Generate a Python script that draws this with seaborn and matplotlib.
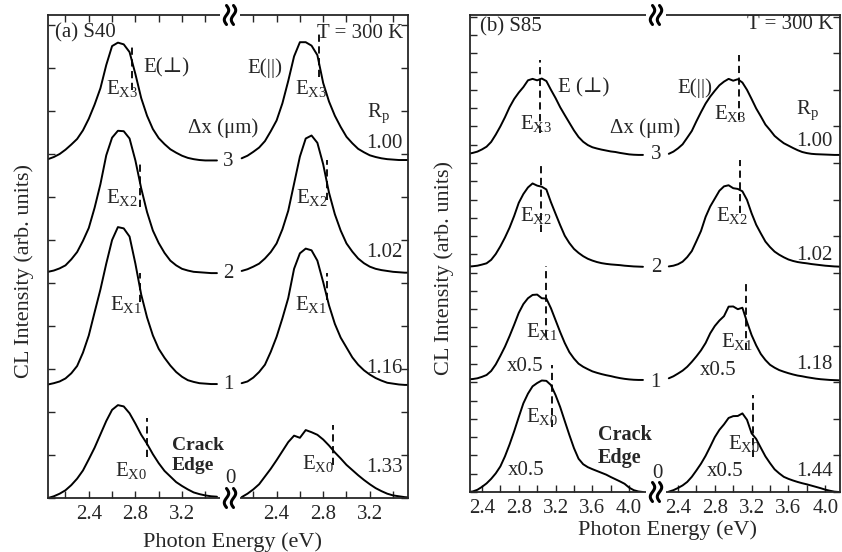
import numpy as np
import matplotlib
matplotlib.use('Agg')
import matplotlib.pyplot as plt
import seaborn as sns
from matplotlib.lines import Line2D
from matplotlib.patches import Rectangle

# photon energy grids (eV) for each half of the broken axes
e_a_left = np.round(np.arange(2.05, 3.501, 0.05), 2)
e_a_right = np.round(np.arange(2.10, 3.551, 0.05), 2)
e_b_left = np.round(np.arange(2.25, 4.151, 0.05), 2)
e_b_right = np.round(np.arange(2.30, 4.201, 0.05), 2)

dx_labels = ['0', '1', '2', '3']
offsets_a = [0.0, 2.63, 5.23, 7.85]
offsets_b = [0.0, 6.13, 12.30, 18.44]
rp_a = ['1.33', '1.16', '1.02', '1.00']
rp_b = ['1.44', '1.18', '1.02', '1.00']

# (a) S40, E(perp) spectra, dx = 0..3 um
a_perp_0 = [0.0, 0.04, 0.10, 0.18, 0.30, 0.45, 0.64, 0.90, 1.17, 1.48, 1.79, 2.05, 2.16, 2.13, 1.97,
            1.73, 1.47, 1.26, 1.02, 0.81, 0.63, 0.50, 0.37, 0.28, 0.20, 0.13, 0.09, 0.06, 0.04, 0.03]
a_perp_1 = [0.01, 0.04, 0.08, 0.15, 0.27, 0.44, 0.75, 1.15, 1.69, 2.22, 2.82, 3.37, 3.67, 3.64, 3.45,
            2.82, 2.10, 1.57, 1.15, 0.84, 0.63, 0.45, 0.30, 0.19, 0.11, 0.07, 0.04, 0.03, 0.02, 0.02]
a_perp_2 = [0.03, 0.06, 0.11, 0.18, 0.32, 0.49, 0.75, 1.05, 1.52, 2.07, 2.74, 3.15, 3.31, 3.30, 3.13,
            2.62, 1.97, 1.42, 0.99, 0.70, 0.47, 0.29, 0.18, 0.10, 0.06, 0.03, 0.02, 0.01, 0.0, 0.0]
a_perp_3 = [0.03, 0.08, 0.15, 0.25, 0.37, 0.50, 0.70, 0.97, 1.30, 1.68, 2.22, 2.66, 2.74, 2.70, 2.52,
            2.01, 1.45, 1.04, 0.73, 0.52, 0.38, 0.26, 0.18, 0.11, 0.06, 0.03, 0.01, 0.0, 0.0, 0.0]
# (a) S40, E(par)
a_par_0 = [0.02, 0.10, 0.20, 0.32, 0.50, 0.68, 0.88, 1.09, 1.30, 1.45, 1.40, 1.58, 1.53, 1.47, 1.36,
           1.22, 1.06, 0.92, 0.77, 0.65, 0.53, 0.42, 0.32, 0.23, 0.16, 0.10, 0.06, 0.04, 0.02, 0.01]
a_par_1 = [0.04, 0.08, 0.17, 0.30, 0.47, 0.77, 1.12, 1.55, 2.02, 2.70, 3.06, 3.17, 3.13, 2.89, 2.39,
           1.85, 1.42, 1.10, 0.87, 0.64, 0.47, 0.34, 0.24, 0.16, 0.10, 0.05, 0.03, 0.01, 0.0, 0.0]
a_par_2 = [0.05, 0.09, 0.15, 0.22, 0.34, 0.49, 0.69, 1.02, 1.45, 2.08, 2.71, 3.13, 3.20, 3.03, 2.53,
           1.87, 1.37, 0.99, 0.69, 0.50, 0.34, 0.23, 0.15, 0.10, 0.07, 0.05, 0.03, 0.02, 0.01, 0.01]
a_par_3 = [0.05, 0.11, 0.20, 0.30, 0.45, 0.68, 0.93, 1.33, 1.85, 2.42, 2.75, 2.75, 2.67, 2.45, 1.80,
           1.37, 1.04, 0.78, 0.55, 0.40, 0.27, 0.19, 0.12, 0.08, 0.05, 0.03, 0.02, 0.01, 0.01, 0.01]

# (b) S85, E(perp)
b_perp_0 = [0.0, 0.03, 0.12, 0.28, 0.47, 0.72, 1.02, 1.40, 1.95, 2.60, 3.32, 4.10, 4.85, 5.38, 5.78,
            5.96, 6.10, 6.08, 5.85, 5.30, 4.65, 3.88, 3.12, 2.40, 1.82, 1.52, 1.36, 1.25, 1.15, 1.05,
            0.95, 0.82, 0.70, 0.58, 0.45, 0.24, 0.10, 0.03, 0.0]
b_perp_1 = [0.03, 0.05, 0.09, 0.17, 0.27, 0.49, 0.85, 1.32, 1.82, 2.40, 3.02, 3.67, 4.15, 4.47, 4.65,
            4.67, 4.47, 4.45, 3.92, 3.27, 2.62, 2.02, 1.52, 1.17, 0.89, 0.72, 0.59, 0.47, 0.39, 0.32,
            0.26, 0.21, 0.15, 0.10, 0.06, 0.03, 0.01, 0.0, 0.0]
b_perp_2 = [0.03, 0.05, 0.08, 0.14, 0.21, 0.40, 0.72, 1.14, 1.62, 2.16, 2.80, 3.52, 4.00, 4.36, 4.58,
            4.46, 4.40, 4.25, 3.55, 2.92, 2.30, 1.72, 1.32, 1.00, 0.78, 0.60, 0.46, 0.36, 0.28, 0.22,
            0.18, 0.15, 0.13, 0.11, 0.08, 0.06, 0.04, 0.03, 0.02]
b_perp_3 = [0.06, 0.11, 0.18, 0.30, 0.45, 0.71, 1.11, 1.56, 2.06, 2.61, 3.06, 3.41, 3.71, 4.08, 4.16,
            4.08, 4.18, 4.04, 3.56, 3.11, 2.61, 2.18, 1.76, 1.34, 0.98, 0.72, 0.54, 0.42, 0.35, 0.29,
            0.24, 0.19, 0.16, 0.11, 0.07, 0.03, 0.01, 0.0, 0.0]
# (b) S85, E(par)
b_par_0 = [0.02, 0.10, 0.22, 0.36, 0.55, 0.83, 1.18, 1.55, 1.98, 2.48, 3.00, 3.40, 3.70, 4.05, 4.15,
           4.16, 4.30, 3.95, 3.21, 2.90, 2.42, 1.95, 1.58, 1.24, 1.02, 0.83, 0.72, 0.63, 0.55, 0.48,
           0.42, 0.35, 0.28, 0.21, 0.13, 0.07, 0.02, 0.0, -0.02]
b_par_1 = [0.09, 0.20, 0.35, 0.51, 0.72, 0.99, 1.29, 1.62, 2.02, 2.55, 2.95, 3.25, 3.49, 4.01, 4.02,
           3.87, 3.95, 3.17, 2.45, 1.89, 1.42, 1.09, 0.83, 0.67, 0.54, 0.45, 0.37, 0.30, 0.24, 0.20,
           0.15, 0.11, 0.07, 0.04, 0.02, 0.0, -0.01, -0.02, -0.03]
b_par_2 = [0.04, 0.08, 0.16, 0.30, 0.55, 0.88, 1.42, 1.98, 2.75, 3.32, 3.75, 4.18, 4.42, 4.48, 4.32,
           4.28, 4.15, 3.68, 2.95, 2.32, 1.85, 1.40, 1.10, 0.85, 0.68, 0.54, 0.42, 0.34, 0.28, 0.24,
           0.21, 0.17, 0.14, 0.11, 0.08, 0.06, 0.04, 0.03, 0.02]
b_par_3 = [0.06, 0.18, 0.36, 0.58, 0.94, 1.31, 1.84, 2.34, 2.81, 3.19, 3.51, 3.81, 4.01, 4.16, 4.06,
           4.14, 3.96, 3.56, 3.06, 2.54, 2.11, 1.66, 1.36, 1.04, 0.83, 0.64, 0.51, 0.38, 0.26, 0.16,
           0.10, 0.06, 0.04, 0.03, 0.02, 0.01, 0.0, 0.0, 0.0]

# E_X marker energies (eV) and their vertical extent, dx = 0..3
ex_a_perp = [2.897, 2.84, 2.84, 2.774]
ex_a_perp_y = [(0.95, 1.86), (4.56, 5.23), (6.77, 7.79), (9.49, 10.53)]
ex_a_par = [2.887, 2.83, 2.83, 2.767]
ex_a_par_y = [(0.77, 1.70), (4.60, 5.23), (6.93, 7.86), (9.79, 10.81)]
ex_b_perp = [3.165, 3.10, 3.038, 3.031]
ex_b_perp_y = [(3.57, 6.95), (8.48, 12.36), (14.2, 18.0), (19.64, 23.63)]
ex_b_par = [3.218, 3.139, 3.074, 3.066]
ex_b_par_y = [(1.93, 5.31), (7.77, 11.43), (15.25, 18.16), (20.35, 23.9)]

sns.set_style('ticks')
plt.rcParams['font.family'] = ['Liberation Serif', 'DejaVu Serif', 'DejaVu Sans']
plt.rcParams['mathtext.fontset'] = 'custom'
plt.rcParams['mathtext.rm'] = 'Liberation Serif'
plt.rcParams['mathtext.it'] = 'Liberation Serif:italic'
plt.rcParams['mathtext.bf'] = 'Liberation Serif:bold'

W, H = 842, 552
fig = plt.figure(figsize=(W / 100, H / 100), dpi=100)


def box(x0, x1, ytop, ybot):
    return [x0 / W, 1 - ybot / H, (x1 - x0) / W, (ybot - ytop) / H]


ax_al = fig.add_axes(box(48, 230, 15, 498))
ax_ar = fig.add_axes(box(230, 408, 15, 498))
ax_bl = fig.add_axes(box(470, 654, 15, 492))
ax_br = fig.add_axes(box(654, 840, 15, 492))

ax_al.set_xlim(2.05, 3.612)
ax_ar.set_xlim(2.0, 3.528)
ax_bl.set_xlim(2.27, 4.27)
ax_br.set_xlim(2.139, 4.161)
for ax in (ax_al, ax_ar):
    ax.set_ylim(0, 483 / 43)
for ax in (ax_bl, ax_br):
    ax.set_ylim(0, 477 / 18.28)

curves = [
    (ax_al, e_a_left, [a_perp_0, a_perp_1, a_perp_2, a_perp_3], offsets_a),
    (ax_ar, e_a_right, [a_par_0, a_par_1, a_par_2, a_par_3], offsets_a),
    (ax_bl, e_b_left, [b_perp_0, b_perp_1, b_perp_2, b_perp_3], offsets_b),
    (ax_br, e_b_right, [b_par_0, b_par_1, b_par_2, b_par_3], offsets_b),
]
for ax, e, specs, offs in curves:
    ax.set_facecolor('none')
    for spec, off in zip(specs, offs):
        sns.lineplot(x=e, y=np.array(spec) + off, ax=ax, color='black', lw=1.4,
                     estimator=None, sort=False, legend=False)
    ax.set_xlabel('')
    ax.set_ylabel('')

marks = [
    (ax_al, ex_a_perp, ex_a_perp_y), (ax_ar, ex_a_par, ex_a_par_y),
    (ax_bl, ex_b_perp, ex_b_perp_y), (ax_br, ex_b_par, ex_b_par_y),
]
for ax, es, ys in marks:
    for e, (lo, hi) in zip(es, ys):
        ax.plot([e, e], [lo, hi], color='black', lw=1.3, ls=(0, (4, 2.5)))

# ticks and spines
ax_al.set_xticks([2.4, 2.8, 3.2])
ax_al.set_xticks([2.2, 2.6, 3.0, 3.4], minor=True)
ax_ar.set_xticks([2.4, 2.8, 3.2])
ax_ar.set_xticks([2.2, 2.6, 3.0, 3.4], minor=True)
for ax in (ax_bl, ax_br):
    ax.set_xticks([2.4, 2.8, 3.2, 3.6, 4.0])
    ax.set_xticks([2.6, 3.0, 3.4, 3.8], minor=True)
for ax in (ax_al, ax_ar):
    ax.set_yticks(range(0, 12))
ax_bl.set_yticks(range(0, 27))
ax_br.set_yticks(range(0, 27, 2))

for ax in (ax_al, ax_ar, ax_bl, ax_br):
    ax.tick_params(which='both', direction='in', length=5, width=1.0, top=True,
                   labelsize=15, pad=5, labelleft=False, labelright=False)
    for s in ax.spines.values():
        s.set_linewidth(1.3)
for ax in (ax_bl, ax_br):
    ax.tick_params(which='both', top=False)
for ax in (ax_al, ax_bl):
    ax.spines['right'].set_visible(False)
    ax.tick_params(which='both', left=True, right=False)
for ax in (ax_ar, ax_br):
    ax.spines['left'].set_visible(False)
    ax.tick_params(which='both', left=False, right=True)

# labels inside the panels
fs = 15
ax_al.text(2.11, 10.81, '(a) S40', fontsize=fs, va='center')
ax_ar.text(3.485, 10.81, 'T = 300 K', fontsize=fs, va='center', ha='right')
ax_al.text(2.865, 10.0, 'E(⊥)', fontsize=fs, va='center')
ax_ar.text(2.146, 10.0, 'E(||)', fontsize=fs, va='center')
ax_al.text(3.552, 8.6, 'Δx (μm)', fontsize=fs, va='center', ha='center')
ax_ar.text(3.27, 8.95, 'R$_{\\mathrm{p}}$', fontsize=fs, va='center', ha='center')
ax_al.text(3.115, 0.98, 'Crack\nEdge', fontsize=14, fontweight='bold', va='center',
           linespacing=1.25)
for i, y in enumerate([0.65, 4.49, 7.0, 9.53]):
    ax_al.text([2.763, 2.72, 2.685, 2.685][i], y, 'E$_{\\mathrm{X%d}}$' % i, fontsize=fs,
               ha='center', va='center')
for i, y in enumerate([0.81, 4.49, 7.0, 9.53]):
    ax_ar.text([2.755, 2.695, 2.708, 2.695][i], y, 'E$_{\\mathrm{X%d}}$' % i, fontsize=fs,
               ha='center', va='center')
for lab, y, xx in zip(dx_labels, [0.45, 2.63, 5.23, 7.82], [3.612, 3.60, 3.60, 3.60]):
    ax_al.text(xx, y, lab, fontsize=fs, ha='center', va='center')
for lab, y in zip(rp_a, [0.70, 3.02, 5.72, 8.25]):
    ax_ar.text(3.485, y, lab, fontsize=fs, ha='right', va='center')

ax_bl.text(2.379, 25.44, '(b) S85', fontsize=fs, va='center')
ax_br.text(4.085, 25.55, 'T = 300 K', fontsize=fs, va='center', ha='right')
ax_bl.text(3.227, 22.1, 'E (⊥)', fontsize=fs, va='center')
ax_br.text(2.389, 22.1, 'E(||)', fontsize=fs, va='center')
ax_bl.text(4.172, 19.9, 'Δx (μm)', fontsize=fs, va='center', ha='center')
ax_br.text(3.802, 20.9, 'R$_{\\mathrm{p}}$', fontsize=fs, va='center', ha='center')
ax_bl.text(3.661, 2.5, 'Crack\nEdge', fontsize=14.5, fontweight='bold', va='center',
           linespacing=1.2)
for i, y in enumerate([4.12, 8.77, 15.15, 20.18]):
    ax_bl.text([3.053, 3.053, 2.987, 2.987][i], y, 'E$_{\\mathrm{X%d}}$' % i, fontsize=fs,
               ha='center', va='center')
for i, y in enumerate([2.66, 8.22, 15.15, 20.7]):
    ax_br.text([3.117, 3.041, 2.987, 2.965][i], y, 'E$_{\\mathrm{X%d}}$' % i, fontsize=fs,
               ha='center', va='center')
ax_bl.text(2.879, 1.2, 'x0.5', fontsize=fs, ha='center', va='center')
ax_bl.text(2.868, 6.85, 'x0.5', fontsize=fs, ha='center', va='center')
ax_br.text(2.91, 1.11, 'x0.5', fontsize=fs, ha='center', va='center')
ax_br.text(2.835, 6.67, 'x0.5', fontsize=fs, ha='center', va='center')
for lab, y, xx in zip(dx_labels, [1.0, 6.0, 12.30, 18.44], [4.31, 4.29, 4.29, 4.29]):
    ax_bl.text(xx, y, lab, fontsize=fs, ha='center', va='center')
for lab, y in zip(rp_b, [1.11, 6.95, 12.96, 19.15]):
    ax_br.text(4.085, y, lab, fontsize=fs, ha='right', va='center')

# axis titles
fig.text(233 / W, 1 - 542 / H, 'Photon Energy (eV)', ha='center', va='center', fontsize=16)
fig.text(667 / W, 1 - 530 / H, 'Photon Energy (eV)', ha='center', va='center', fontsize=16)
fig.text(24 / W, 1 - 271 / H, 'CL Intensity (arb. units)', rotation=90, ha='center',
         va='center', fontsize=16)
fig.text(444 / W, 1 - 268 / H, 'CL Intensity (arb. units)', rotation=90, ha='center',
         va='center', fontsize=16)


# axis-break squiggles
def axis_break(cx, cy):
    fig.add_artist(Rectangle(((cx - 10) / W, 1 - (cy + 3) / H), 20 / W, 6 / H,
                             transform=fig.transFigure, fc='white', ec='none', zorder=5))
    t = np.linspace(-1, 1, 40)
    for dx in (-3.5, 3.5):
        xs = cx + dx - 2.2 * np.sin(np.pi * t)
        ys = cy + 9.5 * t
        fig.add_artist(Line2D(xs / W, 1 - ys / H, transform=fig.transFigure,
                              color='black', lw=2.2, zorder=6))


axis_break(230, 15)
axis_break(230, 498)
axis_break(656, 15)
axis_break(656, 492)

fig.savefig('out.png', dpi=100)
